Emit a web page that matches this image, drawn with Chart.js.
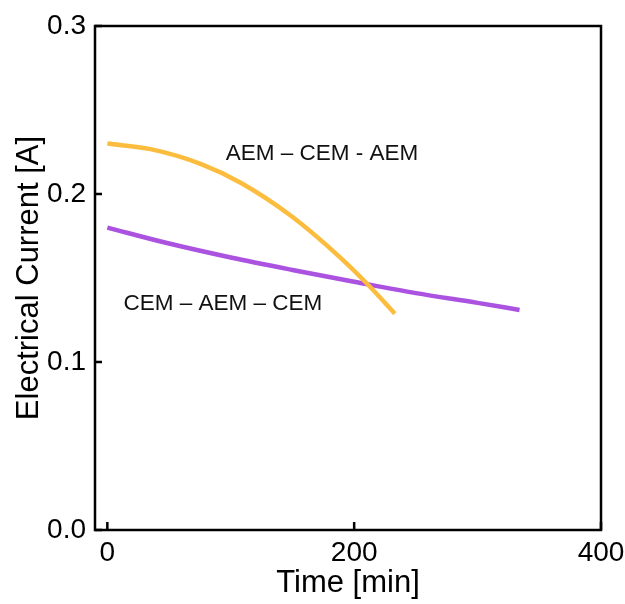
<!DOCTYPE html>
<html>
<head>
<meta charset="utf-8">
<script src="https://cdn.jsdelivr.net/npm/chart.js@4/dist/chart.umd.min.js"></script>
<style>
  html, body { margin: 0; padding: 0; background: #fff; }
  #wrap { width: 625px; height: 604px; }
</style>
</head>
<body>
<div id="wrap"><canvas id="chart"></canvas></div>
<script>
// values
const aemX = [0, 35, 76, 108, 149, 189, 212, 233];
const aemY = [0.230, 0.2267, 0.2178, 0.2067, 0.1869, 0.1620, 0.1454, 0.1288];
const cemX = [0, 50, 100, 150, 200, 250, 300, 334];
const cemY = [0.180, 0.1705, 0.1622, 0.1548, 0.1478, 0.1410, 0.1352, 0.1310];
const xTicks = [0, 200, 400];
const yTicks = [0.0, 0.1, 0.2, 0.3];
const seriesNames = ['AEM – CEM - AEM', 'CEM – AEM – CEM'];

const FONT = "'Liberation Sans', Arial, sans-serif";

// text labels placed in data coordinates
const notes = [
  { text: seriesNames[0], x: 96, y: 0.2237 },
  { text: seriesNames[1], x: 13, y: 0.1347 }
];

const frame = {
  id: 'frame',
  afterDraw(chart) {
    const { ctx, chartArea: a, scales: { x, y } } = chart;
    ctx.save();
    ctx.strokeStyle = '#000';
    ctx.lineWidth = 2.5;
    ctx.strokeRect(a.left, a.top, a.right - a.left, a.bottom - a.top);
    // inward ticks
    ctx.beginPath();
    yTicks.forEach(v => {
      const py = y.getPixelForValue(v);
      ctx.moveTo(a.left, py);
      ctx.lineTo(a.left + 7, py);
    });
    xTicks.forEach(v => {
      const px = x.getPixelForValue(v);
      ctx.moveTo(px, a.bottom);
      ctx.lineTo(px, a.bottom - 8);
    });
    ctx.stroke();
    // notes
    ctx.fillStyle = '#111';
    ctx.font = '22.5px ' + FONT;
    ctx.textAlign = 'left';
    ctx.textBaseline = 'middle';
    notes.forEach(n => ctx.fillText(n.text, x.getPixelForValue(n.x), y.getPixelForValue(n.y)));
    ctx.restore();
  }
};

const toPoints = (xs, ys) => xs.map((v, i) => ({ x: v, y: ys[i] }));

new Chart(document.getElementById('chart'), {
  type: 'line',
  data: {
    datasets: [
      {
        label: seriesNames[0],
        data: toPoints(aemX, aemY),
        borderColor: '#FCBD3F',
        borderWidth: 4.5,
        pointRadius: 0,
        cubicInterpolationMode: 'monotone'
      },
      {
        label: seriesNames[1],
        data: toPoints(cemX, cemY),
        borderColor: '#AC52E0',
        borderWidth: 4.5,
        pointRadius: 0,
        cubicInterpolationMode: 'monotone'
      }
    ]
  },
  options: {
    responsive: true,
    maintainAspectRatio: false,
    animation: false,
    layout: { padding: { top: 26, right: 24, left: 0, bottom: 0 } },
    plugins: { legend: { display: false }, tooltip: { enabled: false } },
    scales: {
      x: {
        type: 'linear',
        min: -10,
        max: 400,
        afterBuildTicks: s => { s.ticks = xTicks.map(v => ({ value: v })); },
        afterFit: s => { s.height = 74; s.paddingLeft = 0; s.paddingRight = 0; },
        grid: { display: false, drawTicks: false },
        border: { display: false },
        ticks: { color: '#000', padding: 6, maxRotation: 0, font: { family: FONT, size: 28 } },
        title: { display: true, text: 'Time [min]', color: '#000', padding: { top: 0, bottom: 5 }, font: { family: FONT, size: 31, lineHeight: 1 } }
      },
      y: {
        min: 0,
        max: 0.3,
        afterBuildTicks: s => { s.ticks = yTicks.map(v => ({ value: v })); },
        afterFit: s => { s.width = 95; s.paddingTop = 0; s.paddingBottom = 0; },
        grid: { display: false, drawTicks: false },
        border: { display: false },
        ticks: { color: '#000', padding: 9, callback: v => v.toFixed(1), font: { family: FONT, size: 28 } },
        title: { display: true, text: 'Electrical Current [A]', color: '#000', padding: { top: 14, bottom: 0 }, font: { family: FONT, size: 31, lineHeight: 1 } }
      }
    }
  },
  plugins: [frame]
});
</script>
</body>
</html>
